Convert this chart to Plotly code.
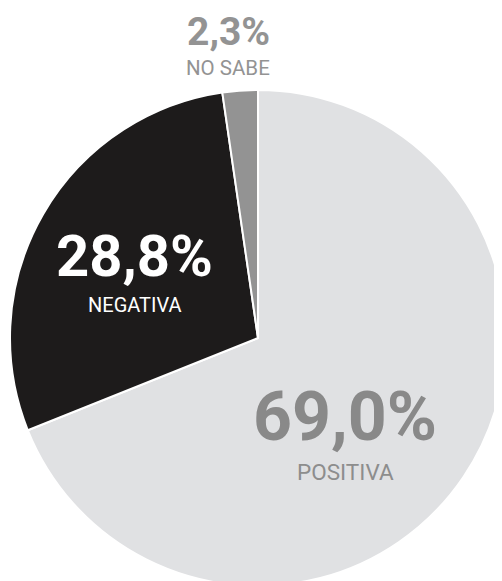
import plotly.graph_objects as go

labels = ["POSITIVA", "NEGATIVA", "NO SABE"]
values = [69.0, 28.8, 2.3]
colors = ["#e0e1e3", "#1d1b1b", "#939393"]

# page body adds an 8px offset; figure coords = window coords - OFF
OFF = 8
W, H = 502, 581
ML, MR, MT, MB = 2, 4, 82, 3
PW, PH = W - ML - MR, H - MT - MB


def px(x):
    return (x - OFF - ML) / PW


def py(y):
    return 1 - (y - OFF - MT) / PH


def fmt(v):
    return f"{v:.1f}".replace(".", ",") + "%"


fig = go.Figure(
    go.Pie(
        labels=labels,
        values=values,
        sort=False,
        direction="clockwise",
        rotation=0,
        marker=dict(colors=colors, line=dict(color="white", width=2)),
        textinfo="none",
        hoverinfo="label+percent",
        showlegend=False,
    )
)

FONT = "Roboto, sans-serif"

# (value font size, label font size, center x, value center y, label center y, value color, label color)
label_style = {
    "POSITIVA": (68, 22.5, 345, 417, 472, "#898989", "#8d8d8d"),
    "NEGATIVA": (58, 20, 134, 256, 305, "#ffffff", "#ffffff"),
    "NO SABE": (39, 20.5, 228, 32, 68, "#939393", "#939393"),
}

annotations = []
for lab, val in zip(labels, values):
    vs, ls, cx, vy, ly, vc, lc = label_style[lab]
    annotations.append(dict(
        text=f"<b>{fmt(val)}</b>", x=px(cx), y=py(vy), xref="paper", yref="paper",
        xanchor="center", yanchor="middle", showarrow=False,
        font=dict(family=FONT, size=vs, color=vc),
    ))
    annotations.append(dict(
        text=lab, x=px(cx), y=py(ly), xref="paper", yref="paper",
        xanchor="center", yanchor="middle", showarrow=False,
        font=dict(family=FONT, size=ls, color=lc),
    ))

fig.update_layout(
    width=W, height=H,
    margin=dict(l=ML, r=MR, t=MT, b=MB),
    paper_bgcolor="white", plot_bgcolor="white",
    annotations=annotations,
)

fig.write_html("out.html")
